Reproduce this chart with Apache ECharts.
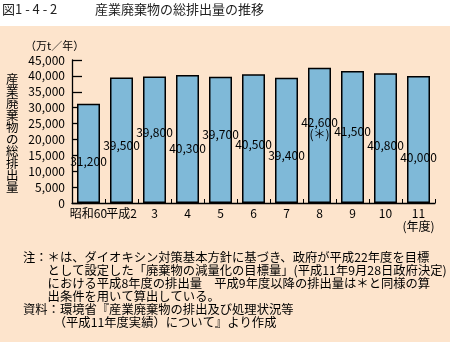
<!DOCTYPE html>
<html>
<head>
<meta charset="utf-8">
<script src="https://cdn.jsdelivr.net/npm/echarts@6/dist/echarts.min.js"></script>
<style>
  html, body { margin: 0; padding: 0; background: #fff; }
  #chart { width: 450px; height: 342px; }
</style>
</head>
<body>
<div id="chart"></div>
<script>
// 産業廃棄物の総排出量（万t／年）
const categories = ['昭和60', '平成2', '3', '4', '5', '6', '7', '8', '9', '10', '11'];
const emissions = [31200, 39500, 39800, 40300, 39700, 40500, 39400, 42600, 41500, 40800, 40000];
const valueNotes = ['', '', '', '', '', '', '', '(＊)', '', '', ''];
const yMin = 0, yMax = 45000, yStep = 5000;

const titleNo = '図1 - 4 - 2';
const titleText = '産業廃棄物の総排出量の推移';
const unitText = '（万t／年）';
const yAxisTitle = '産業廃棄物の総排出量';
const yearUnit = '(年度)';
const noteLines = [
  '注：＊は、ダイオキシン対策基本方針に基づき、政府が平成22年度を目標',
  '　　として設定した「廃棄物の減量化の目標量」(平成11年9月28日政府決定)',
  '　　における平成8年度の排出量　平成9年度以降の排出量は＊と同様の算',
  '　　出条件を用いて算出している。',
  '資料：環境省『産業廃棄物の排出及び処理状況等',
  '　　　（平成11年度実績）について』より作成'
];

// label drop below each bar top (px), layout only
const labelDrop = [58, 67.5, 56, 74, 58, 70.5, 78, 61, 60, 72.5, 82];

const FONT = '"Noto Sans CJK JP", sans-serif';
const fmt = v => v.toLocaleString('en-US');

const chart = echarts.init(document.getElementById('chart'), null, { renderer: 'canvas' });

const barData = emissions.map((v, i) => ({
  value: v,
  label: {
    position: ['50%', labelDrop[i]],
    align: 'center',
    verticalAlign: 'middle'
  }
}));

chart.setOption({
  backgroundColor: '#fff',
  animation: false,
  textStyle: { fontFamily: FONT },
  grid: { left: 72, right: 15, top: 60, bottom: 139, containLabel: false },
  xAxis: {
    type: 'category',
    data: categories,
    boundaryGap: true,
    axisLine: { show: true, lineStyle: { color: '#000', width: 1.3 } },
    axisTick: { show: true, inside: true, length: 4, lineStyle: { color: '#000', width: 1 } },
    axisLabel: {
      interval: 0, margin: 4, color: '#000', fontSize: 12, fontFamily: FONT, lineHeight: 13,
      formatter: (v, i) => i === categories.length - 1 ? v + '\n' + yearUnit : v
    },
    splitLine: { show: false }
  },
  yAxis: {
    type: 'value',
    min: yMin, max: yMax, interval: yStep,
    axisLine: { show: true, lineStyle: { color: '#000', width: 1.3 } },
    axisTick: { show: true, inside: true, length: 10, lineStyle: { color: '#000', width: 1.3 } },
    axisLabel: { color: '#000', fontSize: 12, margin: 7, fontFamily: FONT, formatter: fmt },
    splitLine: { show: false }
  },
  series: [{
    type: 'bar',
    data: barData,
    barWidth: 23,
    itemStyle: { color: '#7FB9D8', borderColor: '#000', borderWidth: 1.5 },
    label: {
      show: true,
      color: '#000',
      fontSize: 12,
      fontFamily: FONT,
      lineHeight: 12,
      formatter: p => valueNotes[p.dataIndex] ? fmt(p.value) + '\n' + valueNotes[p.dataIndex] : fmt(p.value)
    }
  }],
  graphic: [
    { type: 'rect', z: -100, silent: true, shape: { x: 0, y: 26, width: 450, height: 316 }, style: { fill: '#FDE4CC' } },
    { type: 'text', left: 2, top: 3, style: { text: titleNo, font: '13px ' + FONT, fill: '#222' } },
    { type: 'text', left: 95, top: 3, style: { text: titleText, font: '13px ' + FONT, fill: '#222' } },
    { type: 'text', left: 25, top: 40, style: { text: unitText, font: '11px ' + FONT, fill: '#000' } },
    { type: 'text', left: 6, top: 73, style: { text: yAxisTitle.split('').join('\n'), font: '12.5px ' + FONT, lineHeight: 12, fill: '#000' } },
    { type: 'text', left: 23, top: 251, style: { text: noteLines.join('\n'), font: '12.3px ' + FONT, lineHeight: 13, fill: '#000' } }
  ]
});
</script>
</body>
</html>
